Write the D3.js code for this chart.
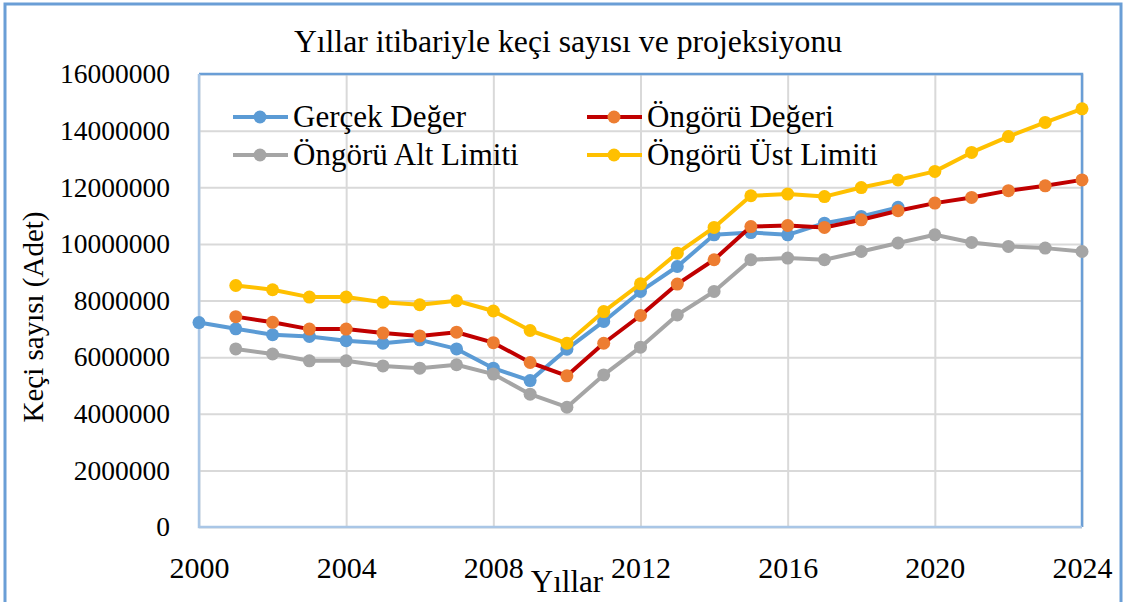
<!DOCTYPE html>
<html>
<head>
<meta charset="utf-8">
<script src="https://cdn.jsdelivr.net/npm/d3@7"></script>
<style>
    body { margin: 0; background: #fff; }
    svg text { font-family: "Liberation Serif", "Times New Roman", serif !important; fill: #000; }
</style>
</head>
<body>
<svg id="chart"></svg>
<script>
// data
const years = [2000, 2001, 2002, 2003, 2004, 2005, 2006, 2007, 2008, 2009, 2010, 2011,
    2012, 2013, 2014, 2015, 2016, 2017, 2018, 2019, 2020, 2021, 2022, 2023, 2024];
const xTicks = [2000, 2004, 2008, 2012, 2016, 2020, 2024];
const yTicks = [0, 2000000, 4000000, 6000000, 8000000, 10000000, 12000000, 14000000, 16000000];

// 2000 - 2019
const gercekDeger = [7220000, 7000000, 6790000, 6730000, 6580000, 6490000, 6610000, 6290000,
    5610000, 5170000, 6280000, 7260000, 8320000, 9200000, 10320000, 10400000, 10320000,
    10730000, 10970000, 11290000];
// 2001 - 2024
const ongoruDegeri = [7430000, 7230000, 6990000, 6990000, 6850000, 6750000, 6880000, 6510000,
    5810000, 5340000, 6490000, 7470000, 8580000, 9440000, 10610000, 10650000, 10580000,
    10850000, 11170000, 11440000, 11640000, 11880000, 12050000, 12260000];
const altLimit = [6290000, 6110000, 5870000, 5870000, 5690000, 5610000, 5730000, 5400000,
    4690000, 4230000, 5370000, 6350000, 7490000, 8320000, 9440000, 9500000, 9440000,
    9730000, 10030000, 10320000, 10050000, 9910000, 9850000, 9730000];
const ustLimit = [8530000, 8380000, 8120000, 8120000, 7940000, 7850000, 7990000, 7630000,
    6940000, 6490000, 7610000, 8590000, 9670000, 10580000, 11700000, 11760000, 11670000,
    11990000, 12260000, 12560000, 13230000, 13790000, 14290000, 14770000];

const series = [
    { name: 'Gerçek Değer', values: gercekDeger, start: 0, line: '#5B9BD5', dot: '#5B9BD5' },
    { name: 'Öngörü Değeri', values: ongoruDegeri, start: 1, line: '#C00000', dot: '#ED7D31' },
    { name: 'Öngörü Alt Limiti', values: altLimit, start: 1, line: '#A5A5A5', dot: '#A5A5A5' },
    { name: 'Öngörü Üst Limiti', values: ustLimit, start: 1, line: '#FFC000', dot: '#FFC000' }
];

const width = 1129;
const height = 602;
const plot = { left: 199, right: 1082, top: 74, bottom: 527 };
const serif = '"Liberation Serif", "Times New Roman", serif';

const svg = d3.select('#chart')
    .attr('width', width)
    .attr('height', height);

// outer frame
svg.append('rect')
    .attr('x', 5).attr('y', 4)
    .attr('width', 1116).attr('height', 620)
    .attr('fill', 'none')
    .attr('stroke', '#6A9ED6')
    .attr('stroke-width', 3);

const x = d3.scaleLinear().domain([2000, 2024]).range([plot.left, plot.right]);
const y = d3.scaleLinear().domain([0, 16000000]).range([plot.bottom, plot.top]);

// grid
svg.append('g')
    .attr('transform', `translate(0,${plot.bottom})`)
    .call(d3.axisBottom(x).tickValues(xTicks).tickSize(-(plot.bottom - plot.top)).tickFormat(''))
    .call(g => g.select('.domain').remove())
    .selectAll('line').attr('stroke', '#D9D9D9').attr('stroke-width', 2);

svg.append('g')
    .attr('transform', `translate(${plot.left},0)`)
    .call(d3.axisLeft(y).tickValues(yTicks).tickSize(-(plot.right - plot.left)).tickFormat(''))
    .call(g => g.select('.domain').remove())
    .selectAll('line').attr('stroke', '#D9D9D9').attr('stroke-width', 2);

// plot border
svg.append('path')
    .attr('d', `M${plot.left},${plot.top}H${plot.right}V${plot.bottom}`)
    .attr('fill', 'none').attr('stroke', '#6A9ED6').attr('stroke-width', 2.5);
svg.append('path')
    .attr('d', `M${plot.left},${plot.top}V${plot.bottom}H${plot.right}`)
    .attr('fill', 'none').attr('stroke', '#A9C6E6').attr('stroke-width', 2.5);

// tick labels
svg.append('g')
    .attr('transform', `translate(0,${plot.bottom})`)
    .call(d3.axisBottom(x).tickValues(xTicks).tickSize(0).tickPadding(30).tickFormat(d3.format('d')))
    .attr('font-family', serif)
    .attr('font-size', 30)
    .call(g => g.select('.domain').remove())
    .selectAll('text')
    .attr('fill', '#000');

svg.append('g')
    .attr('transform', `translate(${plot.left},0)`)
    .call(d3.axisLeft(y).tickValues(yTicks).tickSize(0).tickPadding(29).tickFormat(d3.format('d')))
    .attr('font-family', serif)
    .attr('font-size', 27.5)
    .call(g => g.select('.domain').remove())
    .selectAll('text')
    .attr('fill', '#000');

// lines and markers
const line = d3.line()
    .x(d => x(d.year))
    .y(d => y(d.value));

series.forEach(s => {
    const pts = s.values.map((v, i) => ({ year: years[i + s.start], value: v }));
    svg.append('path')
        .datum(pts)
        .attr('d', line)
        .attr('fill', 'none')
        .attr('stroke', s.line)
        .attr('stroke-width', 4)
        .attr('stroke-linejoin', 'round');
    svg.append('g')
        .selectAll('circle')
        .data(pts)
        .enter()
        .append('circle')
        .attr('cx', d => x(d.year))
        .attr('cy', d => y(d.value))
        .attr('r', 6.5)
        .attr('fill', s.dot);
});

// legend
const legendPos = [[233, 117], [587, 117], [233, 155], [587, 155]];
const legend = svg.append('g');
series.forEach((s, i) => {
    const [lx, ly] = legendPos[i];
    legend.append('line')
        .attr('x1', lx).attr('x2', lx + 55)
        .attr('y1', ly).attr('y2', ly)
        .attr('stroke', s.line).attr('stroke-width', 4);
    legend.append('circle')
        .attr('cx', lx + 27).attr('cy', ly).attr('r', 6.5)
        .attr('fill', s.dot);
    legend.append('text')
        .attr('x', lx + 60).attr('y', ly + 10)
        .style('font-size', '31px')
        .text(s.name);
});

// titles
svg.append('text')
    .attr('x', 568).attr('y', 52)
    .attr('text-anchor', 'middle')
    .style('font-size', '31.7px')
    .text('Yıllar itibariyle keçi sayısı ve projeksiyonu');

svg.append('text')
    .attr('x', 567).attr('y', 592)
    .attr('text-anchor', 'middle')
    .style('font-size', '31px')
    .text('Yıllar');

svg.append('text')
    .attr('transform', 'translate(43,317) rotate(-90)')
    .attr('text-anchor', 'middle')
    .style('font-size', '29px')
    .text('Keçi sayısı (Adet)');
</script>
</body>
</html>
